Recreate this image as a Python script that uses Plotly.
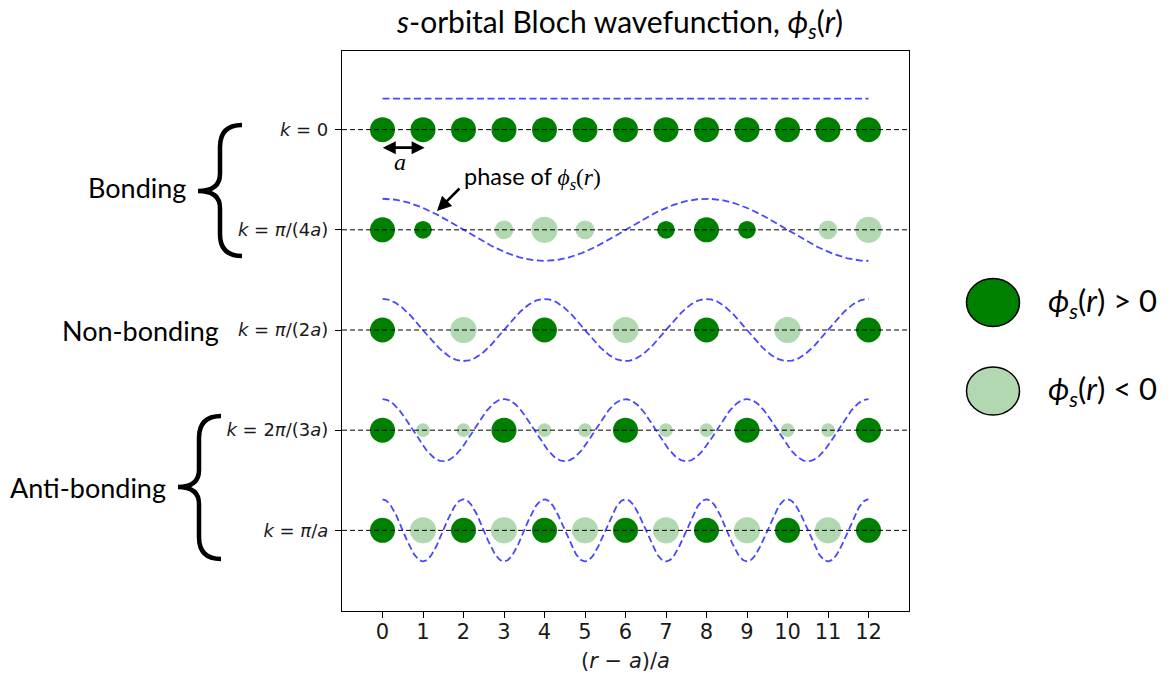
import numpy as np
import plotly.graph_objects as go

# ---- data -------------------------------------------------------------
positions = list(range(13))                      # (r - a)/a lattice sites
k_over_pi = [0.0, 0.25, 0.5, 2.0 / 3.0, 1.0]      # k*a/pi for each row
k_labels = [
    "<i>k</i> = 0",
    "<i>k</i> = <i>π</i>/(4<i>a</i>)",
    "<i>k</i> = <i>π</i>/(2<i>a</i>)",
    "<i>k</i> = 2<i>π</i>/(3<i>a</i>)",
    "<i>k</i> = <i>π</i>/<i>a</i>",
]
row_y = [0, -1, -2, -3, -4]
x_ticks = list(range(13))

# ---- styling ----------------------------------------------------------
W, H = 1170, 681
L, R, T, B = 342, 909, 51, 611
AMP = 0.31          # height of the phase curve above/below each row
MAX_D = 25          # marker diameter for |phi| = 1
DARK = "#008000"
MATH = "DejaVu Sans"
TXT = "Lato, 'Noto Sans', sans-serif"


def px(x):
    return (x - L) / (R - L)


def py(y):
    return (B - y) / (B - T)


fig = go.Figure()

xs = np.linspace(0, 12, 600)
r = np.array(positions, dtype=float)

for kq, y0 in zip(k_over_pi, row_y):
    phi = np.cos(np.pi * kq * r)
    phi[np.abs(phi) < 1e-9] = 0.0
    pos = phi > 0
    neg = phi < 0
    # negative-phase atoms (pale)
    fig.add_trace(go.Scatter(
        x=r[neg], y=[y0] * int(neg.sum()), mode="markers",
        marker=dict(size=MAX_D * np.abs(phi[neg]), color=DARK, opacity=0.3,
                    line=dict(color=DARK, width=1.2)),
        hoverinfo="skip", showlegend=False))
    # positive-phase atoms
    fig.add_trace(go.Scatter(
        x=r[pos], y=[y0] * int(pos.sum()), mode="markers",
        marker=dict(size=MAX_D * np.abs(phi[pos]), color=DARK, opacity=1,
                    line=dict(width=0)),
        hoverinfo="skip", showlegend=False))

# baseline through each row
for y0 in row_y:
    fig.add_trace(go.Scatter(
        x=[-1, 13], y=[y0, y0], mode="lines",
        line=dict(color="black", width=1, dash="5px,3px"),
        hoverinfo="skip", showlegend=False))

# phase of the Bloch function above each row
for kq, y0 in zip(k_over_pi, row_y):
    fig.add_trace(go.Scatter(
        x=xs, y=y0 + AMP * np.cos(np.pi * kq * xs), mode="lines",
        line=dict(color="rgba(0,0,255,0.72)", width=1.8, dash="7px,3.5px"),
        hoverinfo="skip", showlegend=False))

shapes = []
annotations = []


def brace(xr, xv, tx, ty, y0, y1, h=22, h2=17):
    pts = [
        ("M", [(xr, y0)]),
        ("Q", [(xv, y0), (xv, y0 + h)]),
        ("L", [(xv, ty - h2)]),
        ("Q", [(xv, ty), (tx, ty)]),
        ("Q", [(xv, ty), (xv, ty + h2)]),
        ("L", [(xv, y1 - h)]),
        ("Q", [(xv, y1), (xr, y1)]),
    ]
    path = ""
    for cmd, pp in pts:
        path += cmd + " " + " ".join(f"{px(a):.5f},{py(b):.5f}" for a, b in pp) + " "
    return dict(type="path", xref="paper", yref="paper", path=path.strip(),
                line=dict(color="black", width=4.5))


shapes.append(brace(242, 220, 198, 191, 125, 256))
shapes.append(brace(221, 199, 178, 487, 416, 559))

# legend swatches
for cy, fill in [(302.5, DARK), (391, "#b2d8b2")]:
    shapes.append(dict(type="circle", xref="paper", yref="paper",
                       x0=px(993 - 26.5), x1=px(993 + 26.5),
                       y0=py(cy + 24), y1=py(cy - 24),
                       fillcolor=fill, line=dict(color="black", width=1.5)))

phi_txt = "<i>ϕ</i><sub><i>s</i></sub>(<i>r</i>)"
annotations += [
    dict(xref="paper", yref="paper", x=px(1046), y=py(302), xanchor="left",
         yanchor="middle", text=phi_txt + " > 0", showarrow=False,
         font=dict(family=TXT, size=31, color="black")),
    dict(xref="paper", yref="paper", x=px(1046), y=py(390), xanchor="left",
         yanchor="middle", text=phi_txt + " < 0", showarrow=False,
         font=dict(family=TXT, size=31, color="black")),
    dict(xref="paper", yref="paper", x=px(188), y=py(187), xanchor="right",
         yanchor="middle", text="Bonding", showarrow=False,
         font=dict(family=TXT, size=27, color="black")),
    dict(xref="paper", yref="paper", x=px(221), y=py(330), xanchor="right",
         yanchor="middle", text="Non-bonding", showarrow=False,
         font=dict(family=TXT, size=27, color="black")),
    dict(xref="paper", yref="paper", x=px(168), y=py(487), xanchor="right",
         yanchor="middle", text="Anti-bonding", showarrow=False,
         font=dict(family=TXT, size=27, color="black")),
    dict(xref="paper", yref="paper", x=px(619), y=py(1), xanchor="center",
         yanchor="top",
         text="<i>s</i>-orbital Bloch wavefunction, " + phi_txt,
         showarrow=False, font=dict(family=TXT, size=30, color="black")),
    dict(xref="paper", yref="paper", x=px(462), y=py(178), xanchor="left",
         yanchor="middle",
         text="phase of <span style='font-family:Liberation Serif'><i>ϕ</i><sub><i>s</i></sub>(<i>r</i>)</span>",
         showarrow=False, font=dict(family=TXT, size=23.5, color="black")),
    # arrow to the phase curve
    dict(xref="paper", yref="paper", x=px(437), y=py(211), ax=24, ay=-24,
         text="", showarrow=True, arrowhead=2, arrowsize=1.1, arrowwidth=2.6,
         arrowcolor="black", standoff=0, startstandoff=0),
    # lattice constant marker
    dict(xref="x", yref="y", axref="x", ayref="y", x=1.04, y=-0.18,
         ax=-0.03, ay=-0.18, text="", showarrow=True, arrowhead=2,
         arrowside="end+start", arrowsize=1.0, arrowwidth=2.6,
         arrowcolor="black", standoff=0, startstandoff=0),
    dict(xref="x", yref="y", x=0.42, y=-0.32, text="<i>a</i>",
         showarrow=False, font=dict(family="Liberation Serif", size=24,
                                    color="black")),
]

fig.update_layout(
    width=W, height=H, autosize=False,
    margin=dict(l=L, r=W - R, t=T, b=H - B, pad=0),
    paper_bgcolor="white", plot_bgcolor="white",
    shapes=shapes, annotations=annotations,
    xaxis=dict(range=[-1, 13], tickvals=x_ticks,
               ticktext=[str(v) for v in x_ticks],
               ticks="outside", ticklen=6, tickwidth=1, tickcolor="black",
               tickfont=dict(family=MATH, size=21, color="#1a1a1a"),
               ticklabelstandoff=-4,
               showgrid=False, zeroline=False, showline=True, mirror=True,
               linecolor="black", linewidth=1.2,
               title=dict(text="(<i>r</i> − <i>a</i>)/<i>a</i>",
                          font=dict(family=MATH, size=21, color="#1a1a1a"),
                          standoff=10)),
    yaxis=dict(range=[-4.805, 0.785], tickvals=row_y, ticktext=k_labels,
               ticks="outside", ticklen=6, tickwidth=1, tickcolor="black",
               tickfont=dict(family=MATH, size=18, color="#1a1a1a"),
               ticklabelstandoff=3,
               showgrid=False, zeroline=False, showline=True, mirror=True,
               linecolor="black", linewidth=1.2),
)

fig.write_html("out.html")
